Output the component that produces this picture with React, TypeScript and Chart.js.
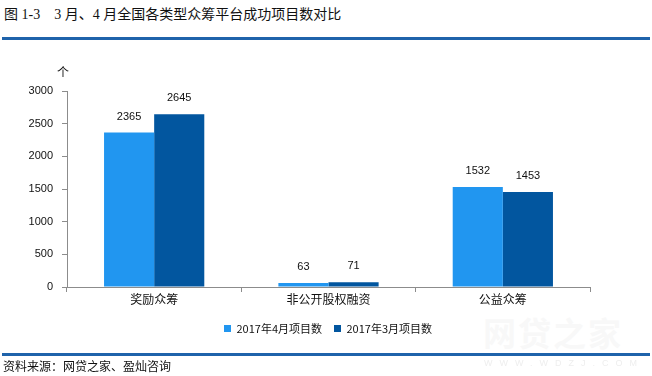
import React, { useEffect, useRef } from "react";
import { Chart, registerables } from "chart.js";

Chart.register(...registerables);

const categories = ["奖励众筹", "非公开股权融资", "公益众筹"];
const seriesNames = ["2017年4月项目数", "2017年3月项目数"];
const aprilValues = [2365, 63, 1532];
const marchValues = [2645, 71, 1453];
const yTicks = [0, 500, 1000, 1500, 2000, 2500, 3000];
const titleText = "图 1-3　3 月、4 月全国各类型众筹平台成功项目数对比";
const sourceText = "资料来源：网贷之家、盈灿咨询";
const unitText = "个";

const LIGHT = "#2196F0";
const DARK = "#02569F";
const AXIS = "#8C8C8C";
const CJK = "'Noto Sans CJK SC', 'Microsoft YaHei', sans-serif";

export default function App() {
  const ref = useRef<HTMLCanvasElement | null>(null);

  useEffect(() => {
    if (!ref.current) return;
    const labelPlugin = {
      id: "valueLabels",
      afterLayout(chart: any) {
        const lg = chart.legend;
        if (lg) {
          const shift = 33;
          lg.left += shift;
          lg.right += shift;
        }
      },
      afterDatasetsDraw(chart: any) {
        const ctx = chart.ctx;
        ctx.save();
        ctx.fillStyle = "#111";
        ctx.font = "11px 'Liberation Sans', Arial, sans-serif";
        ctx.textAlign = "center";
        ctx.textBaseline = "middle";
        chart.data.datasets.forEach((ds: any, di: number) => {
          const meta = chart.getDatasetMeta(di);
          meta.data.forEach((bar: any, i: number) => {
            ctx.fillText(String(ds.data[i]), bar.x, bar.y - 16);
          });
        });
        ctx.font = "12px " + CJK;
        ctx.fillText(unitText, chart.chartArea.left - 4, chart.chartArea.top - 19);
        ctx.restore();
      },
    };

    const chart = new Chart(ref.current, {
      type: "bar",
      data: {
        labels: categories,
        datasets: [
          { label: seriesNames[0], data: aprilValues, backgroundColor: LIGHT, borderWidth: 0 },
          { label: seriesNames[1], data: marchValues, backgroundColor: DARK, borderWidth: 0 },
        ],
      },
      options: {
        animation: false,
        responsive: false,
        maintainAspectRatio: false,
        layout: { padding: { top: 91, left: 0, right: 62, bottom: 32 } },
        plugins: {
          legend: {
            position: "bottom",
            labels: {
              boxWidth: 7,
              boxHeight: 7,
              padding: 12,
              color: "#111",
              font: { size: 11, family: CJK },
            },
          },
          tooltip: { enabled: false },
        },
        datasets: { bar: { categoryPercentage: 0.575, barPercentage: 1 } },
        scales: {
          x: {
            grid: { display: true, drawOnChartArea: false, tickLength: 5, color: AXIS, offset: true },
            border: { display: true, color: AXIS },
            ticks: { color: "#111", font: { size: 12, family: CJK }, padding: 0 },
            afterFit(scale: any) {
              scale.height = 24;
            },
          },
          y: {
            min: 0,
            max: 3000,
            afterBuildTicks(scale: any) {
              scale.ticks = yTicks.map((v) => ({ value: v }));
            },
            grid: { display: true, drawOnChartArea: false, tickLength: 5, color: AXIS },
            border: { display: true, color: AXIS },
            ticks: {
              color: "#111",
              font: { size: 11, family: "'Liberation Sans', Arial, sans-serif" },
              padding: 9,
              callback: (v: any) => String(v),
            },
            afterFit(scale: any) {
              scale.width = 67;
            },
          },
        },
      },
      plugins: [labelPlugin],
    });
    return () => chart.destroy();
  }, []);

  return (
    <div
      style={{
        position: "fixed",
        left: 0,
        top: 0,
        width: 652,
        height: 376,
        background: "#fff",
        overflow: "hidden",
      }}
    >
      <div
        style={{
          position: "absolute",
          left: 4,
          top: 6,
          fontSize: 14,
          lineHeight: "18px",
          color: "#111",
          fontFamily: "'Liberation Serif', 'Times New Roman', " + CJK,
          whiteSpace: "pre",
        }}
      >
        {titleText}
      </div>
      <div style={{ position: "absolute", left: 2, top: 37, width: 648, height: 3, background: "#1F63AB" }} />
      <div
        style={{
          position: "absolute",
          left: 483,
          top: 308,
          fontSize: 33,
          fontWeight: 700,
          color: "#F8F8F8",
          fontFamily: CJK,
          letterSpacing: 2,
        }}
      >
        网贷之家
      </div>
      <canvas ref={ref} width={652} height={376} style={{ position: "absolute", left: 0, top: 0, width: 652, height: 376 }} />
      <div style={{ position: "absolute", left: 2, top: 353, width: 648, height: 3, background: "#1F63AB" }} />
      <div
        style={{
          position: "absolute",
          left: 484,
          top: 358,
          fontSize: 9,
          color: "#EEEEEE",
          fontFamily: "'Liberation Sans', Arial, sans-serif",
          letterSpacing: 7,
        }}
      >
        WWW.WDZJ.COM
      </div>
      <div
        style={{
          position: "absolute",
          left: 3,
          top: 358,
          fontSize: 12,
          lineHeight: "16px",
          color: "#111",
          fontFamily: CJK,
        }}
      >
        {sourceText}
      </div>
    </div>
  );
}
